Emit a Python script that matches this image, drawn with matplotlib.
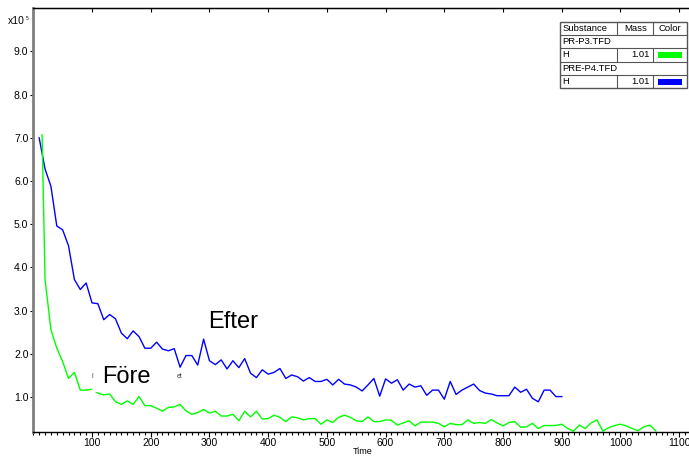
import numpy as np
import matplotlib
matplotlib.use("Agg")
import matplotlib.pyplot as plt
from matplotlib.patches import Rectangle
from matplotlib.ticker import FixedLocator, MultipleLocator, FormatStrFormatter

plt.rcParams['font.family'] = ['Liberation Sans', 'DejaVu Sans']

# PRE-P4.TFD, H (mass 1.01) - "Efter"
efter_time = np.arange(10, 901, 10)
efter_h = [7.00, 6.28, 5.88, 4.96, 4.87, 4.50, 3.72, 3.49, 3.64, 3.18,
           3.16, 2.79, 2.91, 2.81, 2.48, 2.35, 2.53, 2.40, 2.13, 2.13,
           2.27, 2.11, 2.07, 2.12, 1.69, 1.96, 1.96, 1.74, 2.34, 1.84,
           1.75, 1.86, 1.65, 1.84, 1.68, 1.89, 1.55, 1.45, 1.63, 1.53,
           1.57, 1.66, 1.43, 1.51, 1.47, 1.37, 1.45, 1.36, 1.36, 1.41,
           1.28, 1.41, 1.30, 1.28, 1.23, 1.14, 1.28, 1.43, 1.02, 1.42,
           1.32, 1.40, 1.16, 1.30, 1.23, 1.26, 1.04, 1.16, 1.16, 0.95,
           1.36, 1.06, 1.16, 1.23, 1.30, 1.15, 1.09, 1.07, 1.03, 1.03,
           1.03, 1.23, 1.11, 1.18, 0.97, 0.89, 1.16, 1.16, 1.01, 1.01]

# PR-P3.TFD, H (mass 1.01) - "Före"
fore_time = np.r_[15, np.arange(20, 1061, 10)]
fore_h = [7.07,
          3.72, 2.56, 2.13, 1.82, 1.43, 1.57, 1.16, 1.16, 1.18,
          1.09, 1.05, 1.07, 0.89, 0.83, 0.91, 0.83, 1.01, 0.80, 0.80,
          0.74, 0.67, 0.76, 0.77, 0.83, 0.68, 0.60, 0.64, 0.71, 0.63,
          0.67, 0.56, 0.56, 0.60, 0.45, 0.67, 0.54, 0.67, 0.49, 0.50,
          0.58, 0.53, 0.43, 0.54, 0.52, 0.47, 0.50, 0.50, 0.37, 0.47,
          0.41, 0.53, 0.58, 0.53, 0.45, 0.43, 0.54, 0.43, 0.43, 0.47,
          0.46, 0.35, 0.40, 0.45, 0.33, 0.42, 0.42, 0.42, 0.39, 0.31,
          0.39, 0.36, 0.36, 0.47, 0.39, 0.41, 0.39, 0.48, 0.40, 0.33,
          0.41, 0.43, 0.30, 0.31, 0.39, 0.27, 0.34, 0.34, 0.34, 0.37,
          0.27, 0.21, 0.35, 0.27, 0.40, 0.47, 0.21, 0.29, 0.34, 0.37,
          0.33, 0.27, 0.22, 0.31, 0.35, 0.22]

x_ticks = list(range(100, 1101, 100))
y_ticks = list(range(1, 10))

W, H = 689, 457
fig = plt.figure(figsize=(W / 100, H / 100), dpi=100)
ax = fig.add_axes([33.3 / W, 1 - 432 / H, (688 - 33.3) / W, (432 - 8.3) / H])

ax.plot(efter_time, efter_h, color='#0000ff', lw=1.0, zorder=2)
ax.plot(fore_time, fore_h, color='#00ff00', lw=1.0, zorder=2)

ax.set_xlim(0, 1115)
ax.set_ylim(0.19, 10.0)

ax.xaxis.set_major_locator(FixedLocator(x_ticks))
ax.xaxis.set_minor_locator(MultipleLocator(10))
ax.yaxis.set_major_locator(FixedLocator(y_ticks))
ax.yaxis.set_major_formatter(FormatStrFormatter('%.1f'))
ax.tick_params(axis='x', which='major', direction='out', length=3.5, width=0.8,
               labelsize=7.5, pad=1)
ax.tick_params(axis='x', which='minor', direction='out', length=2.5, width=0.8)
ax.tick_params(axis='y', which='major', direction='out', length=2.5, width=0.8,
               labelsize=7.5, pad=1)

ax.spines['right'].set_visible(False)
ax.spines['left'].set_color('#7f7f7f')
ax.spines['left'].set_linewidth(2)
ax.spines['bottom'].set_linewidth(1)
ax.spines['top'].set_linewidth(1)

top = ax.secondary_xaxis('top')
top.set_xticks(x_ticks)
top.tick_params(direction='in', length=3, width=0.8, labeltop=False)

# labels on the curves
ax.add_patch(Rectangle((100.8, 1.116), 140.5, 0.8, facecolor='white',
                       edgecolor='none', zorder=3))
ax.text(99.4, 1.45, 'l', fontsize=5, color='#444444', zorder=4)
ax.text(244, 1.43, 'et', fontsize=5, color='#444444', zorder=4)
ax.text(158, 1.32, 'Före', fontsize=17, ha='center', va='baseline', zorder=4)
ax.text(340, 2.59, 'Efter', fontsize=17, ha='center', va='baseline', zorder=4)

# overlay in pixel units for the legend table and loose labels
ov = fig.add_axes([0, 0, 1, 1], zorder=5)
ov.set_xlim(0, W)
ov.set_ylim(H, 0)
ov.axis('off')
ov.patch.set_alpha(0)

ov.text(363, 452, 'Time', fontsize=6.5, ha='center', va='center')
ov.text(25, 24, 'x10', fontsize=7.5, ha='right', va='baseline')
ov.text(25.3, 19.5, '5', fontsize=3.5, ha='left', va='baseline')

tx0, tx1 = 559.5, 687
c1, c2 = 617.3, 653.3
rows = np.linspace(21.7, 88.2, 6)
lc = '#555555'
ov.add_patch(Rectangle((tx0, rows[0]), tx1 - tx0, rows[-1] - rows[0],
                       facecolor='white', edgecolor=lc, lw=1.0))
for r in rows[1:-1]:
    ov.plot([tx0, tx1], [r, r], color=lc, lw=0.8)
for i in (0, 2, 4):
    for c in (c1, c2):
        ov.plot([c, c], [rows[i], rows[i + 1]], color=lc, lw=0.8)

fs = 6.8
mid = (rows[:-1] + rows[1:]) / 2
ov.text(tx0 + 3, mid[0], 'Substance', fontsize=fs, va='center')
ov.text((c1 + c2) / 2, mid[0], 'Mass', fontsize=fs, va='center', ha='center')
ov.text((c2 + tx1) / 2, mid[0], 'Color', fontsize=fs, va='center', ha='center')
ov.text(tx0 + 3, mid[1], 'PR-P3.TFD', fontsize=fs, va='center')
ov.text(tx0 + 3, mid[2], 'H', fontsize=fs, va='center')
ov.text(c2 - 4, mid[2], '1.01', fontsize=fs, va='center', ha='right')
ov.add_patch(Rectangle((658, mid[2] - 3), 24, 6, facecolor='#00ff00', edgecolor='none'))
ov.text(tx0 + 3, mid[3], 'PRE-P4.TFD', fontsize=fs, va='center')
ov.text(tx0 + 3, mid[4], 'H', fontsize=fs, va='center')
ov.text(c2 - 4, mid[4], '1.01', fontsize=fs, va='center', ha='right')
ov.add_patch(Rectangle((658, mid[4] - 3), 24, 6, facecolor='#0000ff', edgecolor='none'))

fig.savefig('out.png', dpi=100)
